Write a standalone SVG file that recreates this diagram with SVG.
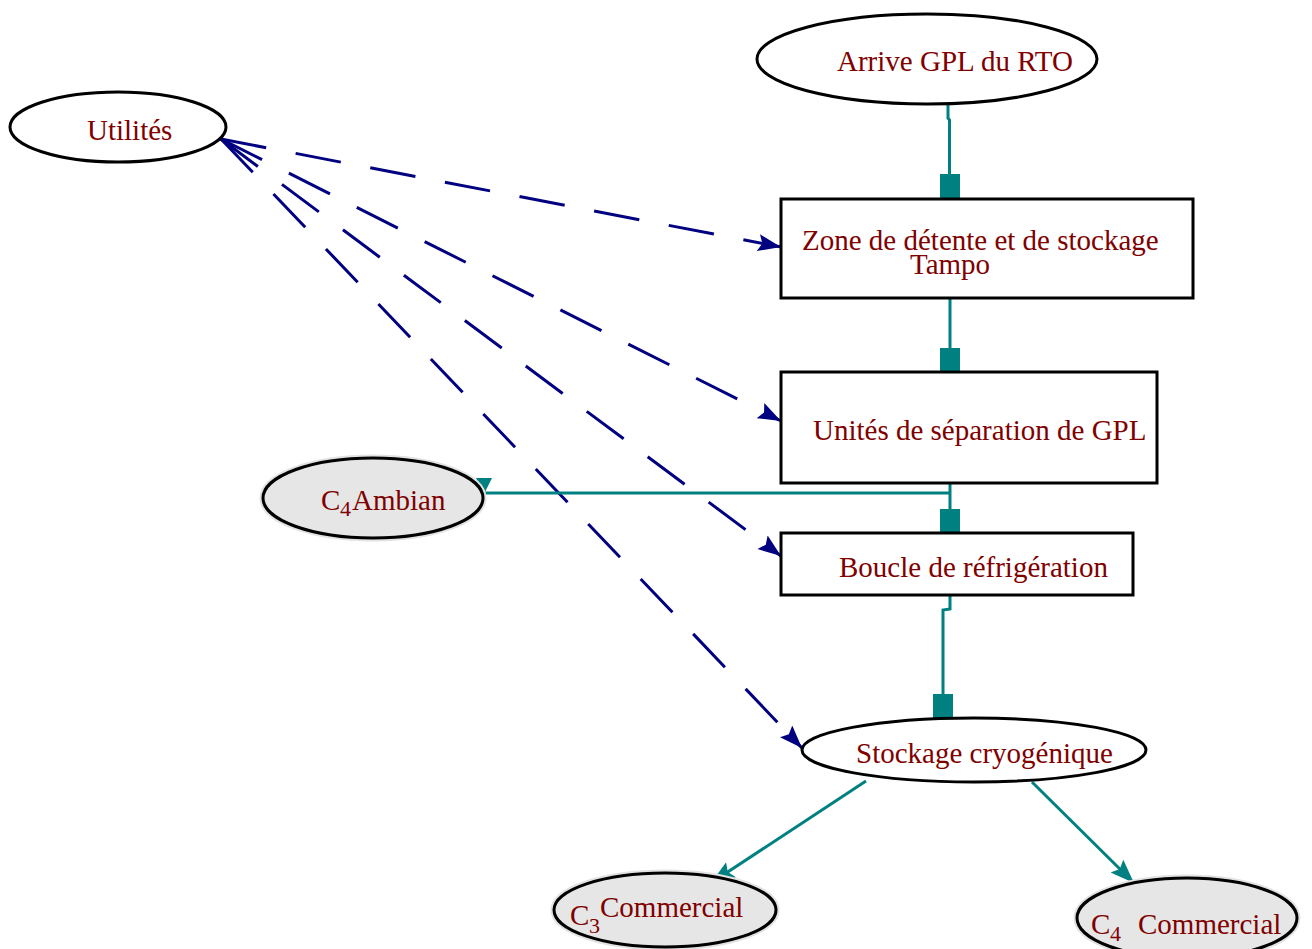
<svg xmlns="http://www.w3.org/2000/svg" width="1312" height="949" viewBox="0 0 1312 949">
<style>
.node{fill:#ffffff;stroke:#000000;stroke-width:3}
.gray{fill:#e6e6e6;stroke:#000000;stroke-width:3}
.halo{fill:none;stroke:#e2e2e2;stroke-width:7}
.lbl{font-family:"Liberation Serif","Times New Roman",serif;font-size:29px;fill:#800000}
.sub{font-family:"Liberation Serif","Times New Roman",serif;font-size:22px;fill:#800000}
.teal{fill:none;stroke:#008080;stroke-width:3}
.dash{fill:none;stroke:#000080;stroke-width:3;stroke-dasharray:46 30}
.sq{fill:#008080}
</style>
<defs>
<marker id="ab" markerUnits="userSpaceOnUse" markerWidth="24" markerHeight="18" refX="23" refY="8.5" orient="auto">
<path d="M0,0 L23,8.5 L0,17 L4,8.5 z" fill="#000080"/>
</marker>
<marker id="at" markerUnits="userSpaceOnUse" markerWidth="26" markerHeight="20" refX="24" refY="9" orient="auto">
<path d="M0,0 L24,9 L0,18 L4,9 z" fill="#008080"/>
</marker>
</defs>
<rect width="1312" height="949" fill="#ffffff"/>

<g id="connectors">
<path class="dash" d="M221,139 L781,247" marker-end="url(#ab)"/>
<path class="dash" d="M221,139 L781,421" marker-end="url(#ab)"/>
<path class="dash" d="M221,139 L781,556" marker-end="url(#ab)"/>
<path class="dash" d="M221,139 L802,748" marker-end="url(#ab)"/>
<path class="teal" d="M948,104 L948,118 L949.5,120 L949.5,176"/>
<rect class="sq" x="940" y="174" width="20" height="25"/>
<path class="teal" d="M950,298 L950,350"/>
<rect class="sq" x="940" y="348" width="20" height="24"/>
<path class="teal" d="M950,483 L950,511"/>
<rect class="sq" x="940" y="509" width="20" height="24"/>
<path class="teal" d="M950,493 L484,493"/>
<path d="M476,478 L492,478 L484,494 z" fill="#008080"/>
<path class="teal" d="M950,595 L950,609 L943,610 L943,696"/>
<rect class="sq" x="933" y="694" width="20" height="24"/>
<path class="teal" d="M866,781 L711,883" marker-end="url(#at)"/>
<path class="teal" d="M1032,782 L1134,883" marker-end="url(#at)"/>
</g>

<g id="utilites">
<ellipse class="node" cx="118" cy="127" rx="108" ry="35"/>
<text class="lbl" x="87" y="140">Utilités</text>
</g>

<g id="arrive">
<ellipse class="node" cx="927" cy="59" rx="170" ry="45"/>
<text class="lbl" x="837" y="71">Arrive GPL du RTO</text>
</g>

<g id="zone">
<rect class="node" x="781" y="199" width="412" height="99"/>
<text class="lbl" x="802" y="250">Zone de détente et de stockage</text>
<text class="lbl" x="910" y="274">Tampo</text>
</g>

<g id="unites">
<rect class="node" x="781" y="372" width="376" height="111"/>
<text class="lbl" x="813" y="440">Unités de séparation de GPL</text>
</g>

<g id="boucle">
<rect class="node" x="781" y="533" width="352" height="62"/>
<text class="lbl" x="839" y="577">Boucle de réfrigération</text>
</g>

<g id="c4ambian">
<ellipse class="halo" cx="373" cy="498" rx="110" ry="40"/>
<ellipse class="gray" cx="373" cy="498" rx="110" ry="40"/>
<text class="lbl" x="321" y="510">C</text>
<text class="sub" x="340" y="516">4</text>
<text class="lbl" x="352" y="510">Ambian</text>
</g>

<g id="stockage">
<ellipse class="node" cx="974" cy="750" rx="172" ry="32"/>
<text class="lbl" x="856" y="763">Stockage cryogénique</text>
</g>

<g id="c3commercial">
<ellipse class="halo" cx="665" cy="910" rx="111" ry="37"/>
<ellipse class="gray" cx="665" cy="910" rx="111" ry="37"/>
<text class="lbl" x="570" y="925">C</text>
<text class="sub" x="589" y="933">3</text>
<text class="lbl" x="600" y="917">Commercial</text>
</g>

<g id="c4commercial">
<ellipse class="halo" cx="1187" cy="918" rx="110" ry="40"/>
<ellipse class="gray" cx="1187" cy="918" rx="110" ry="40"/>
<text class="lbl" x="1091" y="934">C</text>
<text class="sub" x="1110" y="941">4</text>
<text class="lbl" x="1138" y="934">Commercial</text>
</g>
</svg>
